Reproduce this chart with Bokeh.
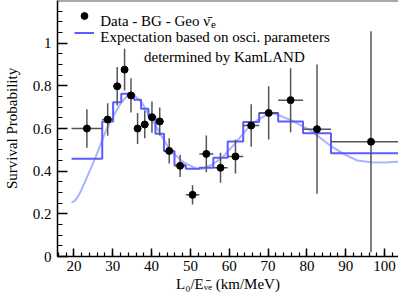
from bokeh.plotting import figure
from bokeh.models import (Range1d, SingleIntervalTicker, CustomJSTickFormatter,
                          Legend, LegendItem, Span)
from bokeh.core.properties import value
from bokeh.embed import file_html
from bokeh.resources import INLINE

# ---- data ----
bin_edges = [19.4, 27.3, 30.1, 32.2, 33.9, 35.5, 37.3, 39.2, 41.0, 43.2, 45.9,
             48.8, 52.3, 55.9, 59.6, 63.6, 67.7, 72.6, 79.0, 86.2, 106.8]
data_y = [0.600, 0.642, 0.798, 0.876, 0.755, 0.600, 0.619, 0.653, 0.633, 0.495,
          0.425, 0.289, 0.481, 0.416, 0.469, 0.614, 0.673, 0.733, 0.597, 0.538]
data_err = [0.090, 0.076, 0.090, 0.098, 0.080, 0.073, 0.065, 0.073, 0.066, 0.059,
            0.052, 0.045, 0.086, 0.070, 0.080, 0.100, 0.125, 0.150, 0.303, 0.518]
expect_hist = [0.458, 0.633, 0.723, 0.763, 0.763, 0.735, 0.692, 0.656, 0.575, 0.493,
               0.428, 0.411, 0.416, 0.463, 0.539, 0.630, 0.673, 0.633, 0.578, 0.484]
curve_x = [19.4, 20.3, 21.5, 23.0, 25.6, 28.1, 30.0, 32.0, 34.0, 35.2, 37.5, 40.9,
           42.2, 44.8, 48.2, 51.6, 53.0, 55.5, 58.0, 61.4, 65.7, 70.0, 72.0, 76.0,
           81.0, 86.0, 90.0, 93.0, 96.4, 100.0, 104.0]
curve_y = [0.252, 0.262, 0.295, 0.356, 0.466, 0.583, 0.653, 0.716, 0.760, 0.763,
           0.720, 0.620, 0.575, 0.497, 0.442, 0.411, 0.410, 0.430, 0.460, 0.528,
           0.622, 0.669, 0.668, 0.638, 0.590, 0.520, 0.475, 0.450, 0.442, 0.441, 0.444]

legend_texts = ["Data - BG - Geo ν̄", "Expectation based on osci. parameters",
                "determined by KamLAND"]
x_title = "L\u2080/E\u1d65\u0304\u2091 (km/MeV)"
y_title = "Survival Probability"

x_lo, x_hi = 15.78, 103.58
y_lo, y_hi = 0.0, 1.2

SERIF = "Liberation Serif"

p = figure(width=398, height=300, output_backend="svg", toolbar_location=None,
           x_range=Range1d(x_lo, x_hi), y_range=Range1d(y_lo, y_hi),
           min_border_left=55, min_border_right=0, min_border_top=0,
           min_border_bottom=44)
p.grid.visible = False
p.outline_line_color = None
p.background_fill_color = "white"
p.border_fill_color = "white"

# axes (ROOT style: ticks inside)
xa = p.xaxis[0]
xa.ticker = SingleIntervalTicker(interval=10, num_minor_ticks=5)
xa.major_tick_in = 8
xa.major_tick_out = 0
xa.minor_tick_in = 4
xa.minor_tick_out = 0
xa.axis_line_width = 1.5
xa.major_tick_line_width = 1.5
xa.minor_tick_line_width = 1.2
xa.major_label_text_font = SERIF
xa.major_label_text_font_size = "15px"
xa.major_label_text_color = "black"
xa.major_label_standoff = 4
xa.axis_label = x_title
xa.axis_label_text_font = SERIF
xa.axis_label_text_font_size = "15px"
xa.axis_label_text_font_style = "normal"
xa.axis_label_text_color = "black"
xa.axis_label_standoff = 2

ya = p.yaxis[0]
ya.ticker = SingleIntervalTicker(interval=0.2, num_minor_ticks=4)
ya.formatter = CustomJSTickFormatter(code="return String(Math.round(tick*10)/10);")
ya.major_tick_in = 10
ya.major_tick_out = 0
ya.minor_tick_in = 5
ya.minor_tick_out = 0
ya.axis_line_width = 1.5
ya.major_tick_line_width = 1.5
ya.minor_tick_line_width = 1.2
ya.major_label_text_font = SERIF
ya.major_label_text_font_size = "15px"
ya.major_label_text_color = "black"
ya.major_label_standoff = 6
ya.axis_label = y_title
ya.axis_label_text_font = SERIF
ya.axis_label_text_font_size = "15px"
ya.axis_label_text_font_style = "normal"
ya.axis_label_text_color = "black"
ya.axis_label_standoff = 10

p.add_layout(Span(location=y_hi, dimension="width", line_color="#555555", line_width=2))

# expectation curve and histogram
p.line(curve_x, curve_y, line_color="#aab3ff", line_width=2)
hist = p.step(bin_edges, expect_hist + [expect_hist[-1]], mode="after",
              line_color="#5c5cff", line_width=2)

# data with error bars
x_c = [(a + b) / 2 for a, b in zip(bin_edges[:-1], bin_edges[1:])]
p.segment(x0=x_c, y0=[y - e for y, e in zip(data_y, data_err)],
          x1=x_c, y1=[y + e for y, e in zip(data_y, data_err)],
          line_color="#555555", line_width=1.5)
p.segment(x0=bin_edges[:-1], y0=data_y, x1=bin_edges[1:], y1=data_y,
          line_color="#555555", line_width=1.5)
pts = p.scatter(x_c, data_y, size=7, color="black")

# legend keys (glyphs only); texts drawn as serif text glyphs
legend = Legend(items=[LegendItem(label=" ", renderers=[pts]),
                       LegendItem(label=" ", renderers=[hist])],
                location=(17, 215), label_text_font_size="15px",
                glyph_width=20, glyph_height=17, label_height=17, spacing=0,
                padding=0, margin=0, border_line_color=None, background_fill_alpha=0,
                label_standoff=6)
p.add_layout(legend)

# legend text positions (data coordinates of the text anchors)
leg_x = [26.79, 26.79, 38.05]
leg_y = [1.104, 1.027, 0.935]
p.text(x=leg_x, y=leg_y, text=legend_texts, text_font=value(SERIF),
       text_font_size="15px", text_color="black", text_baseline="alphabetic",
       text_align="left")
p.text(x=[55.3], y=[1.088], text=["e"], text_font=value(SERIF),
       text_font_size="11px", text_color="black", text_baseline="alphabetic",
       text_align="left")

open("out.html", "w").write(file_html(p, INLINE))
